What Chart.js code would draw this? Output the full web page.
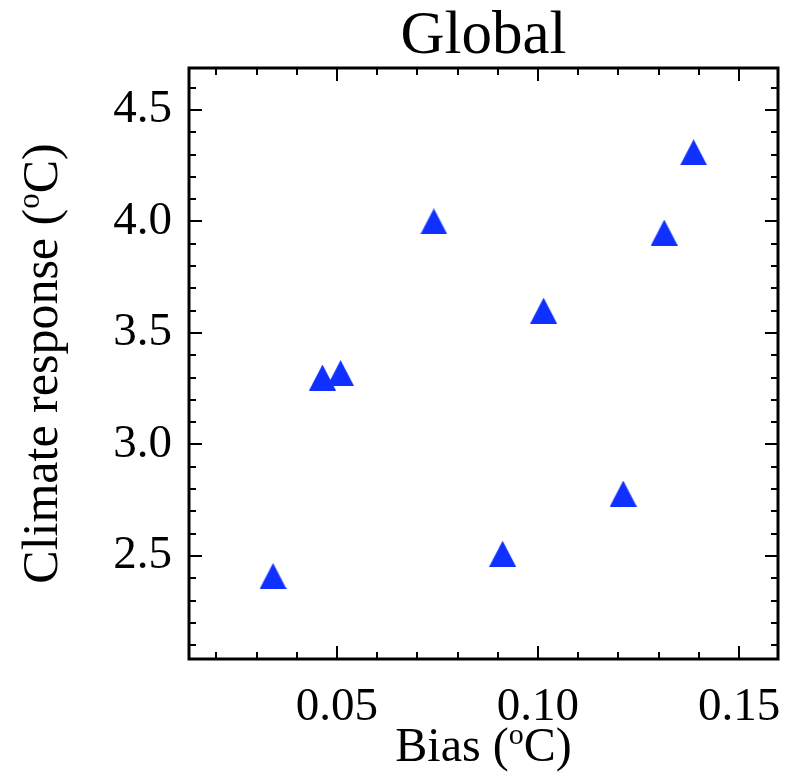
<!DOCTYPE html>
<html>
<head>
<meta charset="utf-8">
<script src="https://cdn.jsdelivr.net/npm/chart.js@4"></script>
<style>
  html, body { margin: 0; padding: 0; background: #fff; }
</style>
</head>
<body>
<canvas id="scatter" width="792" height="777"></canvas>
<script>
// model bias vs. climate response, one triangle per model
const biasValues = [0.0341, 0.0464, 0.0509, 0.0741, 0.0912, 0.1014, 0.1212, 0.1314, 0.1387];
const responseValues = [2.41, 3.30, 3.32, 4.00, 2.51, 3.60, 2.78, 3.95, 4.31];

const xRange = [0.0132, 0.1597];
const yRange = [2.038, 4.688];
const xMajorTicks = [0.05, 0.10, 0.15];
const xMinorTicks = [0.02, 0.03, 0.04, 0.06, 0.07, 0.08, 0.09, 0.11, 0.12, 0.13, 0.14];
const yMajorTicks = [2.5, 3.0, 3.5, 4.0, 4.5];
const yMinorTicks = [2.1, 2.2, 2.3, 2.4, 2.6, 2.7, 2.8, 2.9, 3.1, 3.2, 3.3, 3.4, 3.6, 3.7, 3.8, 3.9, 4.1, 4.2, 4.3, 4.4, 4.6];

const SERIF = '"Liberation Serif", "Times New Roman", serif';
const BLUE = '#1030ff';

// filled triangle symbol, centred on the data point
function makeTriangle(w, h) {
  const c = document.createElement('canvas');
  c.width = w;
  c.height = h;
  const g = c.getContext('2d');
  g.fillStyle = BLUE;
  g.beginPath();
  g.moveTo(w / 2, 0);
  g.lineTo(w, h);
  g.lineTo(0, h);
  g.closePath();
  g.fill();
  return c;
}

// text with a raised "o" for the degree sign
function drawSupText(ctx, parts, x, y, size) {
  const supSize = Math.round(size * 0.62);
  const widths = parts.map(([t, sup]) => {
    ctx.font = `${sup ? supSize : size}px ${SERIF}`;
    return ctx.measureText(t).width;
  });
  let cx = x - widths.reduce((a, b) => a + b, 0) / 2;
  parts.forEach(([t, sup], i) => {
    ctx.font = `${sup ? supSize : size}px ${SERIF}`;
    ctx.fillText(t, cx, sup ? y - size * 0.36 : y);
    cx += widths[i];
  });
}

const idlFrame = {
  id: 'idlFrame',
  afterDraw(chart) {
    const { ctx, chartArea: a, scales: { x, y } } = chart;
    ctx.save();
    ctx.strokeStyle = '#000';

    // inward ticks on all four sides
    ctx.lineWidth = 2;
    ctx.beginPath();
    const xt = (vals, len) => vals.forEach(v => {
      const p = Math.round(x.getPixelForValue(v));
      ctx.moveTo(p, a.bottom); ctx.lineTo(p, a.bottom - len);
      ctx.moveTo(p, a.top); ctx.lineTo(p, a.top + len);
    });
    const yt = (vals, len) => vals.forEach(v => {
      const p = Math.round(y.getPixelForValue(v));
      ctx.moveTo(a.left, p); ctx.lineTo(a.left + len, p);
      ctx.moveTo(a.right, p); ctx.lineTo(a.right - len, p);
    });
    xt(xMajorTicks, 13);
    xt(xMinorTicks, 7);
    yt(yMajorTicks, 13);
    yt(yMinorTicks, 7);
    ctx.stroke();

    ctx.lineWidth = 3;
    ctx.strokeRect(a.left, a.top, a.right - a.left, a.bottom - a.top);

    // axis titles
    ctx.fillStyle = '#000';
    ctx.textBaseline = 'alphabetic';
    ctx.textAlign = 'left';
    drawSupText(ctx, [['Bias (', false], ['o', true], ['C)', false]], (a.left + a.right) / 2, 761, 48);
    ctx.translate(57, (a.top + a.bottom) / 2);
    ctx.rotate(-Math.PI / 2);
    drawSupText(ctx, [['Climate response (', false], ['o', true], ['C)', false]], 0, 0, 50);
    ctx.restore();
  }
};

const points = biasValues.map((b, i) => ({ x: b, y: responseValues[i] }));

new Chart(document.getElementById('scatter'), {
  type: 'scatter',
  data: {
    datasets: [{
      data: points,
      pointStyle: makeTriangle(27, 26),
      pointRadius: 13,
      pointHoverRadius: 13
    }]
  },
  options: {
    responsive: false,
    animation: false,
    events: [],
    layout: { padding: { left: 0, right: 13, top: 0, bottom: 0 } },
    plugins: {
      legend: { display: false },
      tooltip: { enabled: false },
      title: {
        display: true,
        fullSize: false,
        text: 'Global',
        color: '#000',
        font: { family: SERIF, size: 61, weight: 'normal', lineHeight: 1 },
        padding: { top: 6, bottom: 1 }
      }
    },
    scales: {
      x: {
        type: 'linear',
        min: xRange[0],
        max: xRange[1],
        grid: { display: false, drawTicks: false },
        border: { display: false },
        afterBuildTicks: s => { s.ticks = xMajorTicks.map(v => ({ value: v })); },
        ticks: {
          color: '#000',
          padding: 20,
          maxRotation: 0,
          font: { family: SERIF, size: 47 },
          callback: v => v.toFixed(2)
        },
        afterFit: s => {
          s.height = 118;
          s.paddingLeft = 0;
          s.paddingRight = 0;
        }
      },
      y: {
        type: 'linear',
        min: yRange[0],
        max: yRange[1],
        grid: { display: false, drawTicks: false },
        border: { display: false },
        afterBuildTicks: s => { s.ticks = yMajorTicks.map(v => ({ value: v })); },
        ticks: {
          color: '#000',
          padding: 17,
          font: { family: SERIF, size: 47 },
          callback: v => v.toFixed(1)
        },
        afterFit: s => {
          s.width = 189;
          s.paddingTop = 0;
          s.paddingBottom = 0;
        }
      }
    }
  },
  plugins: [idlFrame]
});
</script>
</body>
</html>
